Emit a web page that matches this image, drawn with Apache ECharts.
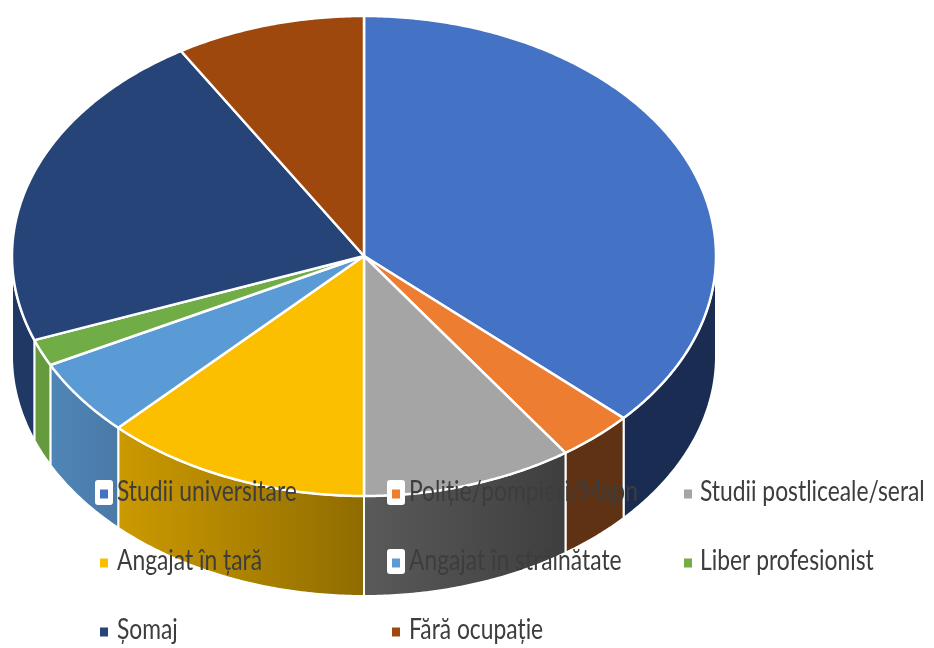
<!DOCTYPE html>
<html><head><meta charset="utf-8">
<style>html,body{margin:0;padding:0;background:#fff}#c{width:934px;height:648px}</style>
<script src="https://cdn.jsdelivr.net/npm/echarts@6/dist/echarts.min.js"></script>
</head><body><div id="c"></div>
<script>
const categories = ["Studii universitare","Poliție/pompieri/Mapn","Studii postliceale/seral","Angajat în țară","Angajat în străinătate","Liber profesionist","Șomaj","Fără ocupație"];
const values = [36.8,3.5,9.7,12.3,5.2,1.8,22.0,8.7];
const colors = ["#4472C4","#ED7D31","#A5A5A5","#FBBF00","#5B9BD5","#70AD47","#264478","#9E480E"];
const wallLeft = ["#1A2C52","#5E3213","#5A5A5A","#CC9A00","#4F86B8","#659A3F","#1F3864","#5E3213"];
const wallRight = ["#1A2C52","#5E3213","#3E3E3E","#8F6C00","#4A7AA6","#659A3F","#1F3864","#5E3213"];
const legendCols = [100,392,684];
const legendRows = [481,550,619];
const textCols = [117,409,700];
const textCenters = [492,561,630];
const boxed = [0,1,4];

const CX=364, CY=256, RX=352, RY=240, DEPTH=100;
const total = values.reduce((a,b)=>a+b,0);
function pt(t,dy){return [CX+RX*Math.sin(t), CY-RY*Math.cos(t)+(dy||0)];}
function arc(a,b,dy){const n=Math.max(2,Math.ceil(Math.abs(b-a)/0.01));const r=[];for(let i=0;i<=n;i++)r.push(pt(a+(b-a)*i/n,dy));return r;}
function makeRender(idx){
  let s=0;for(let i=0;i<idx;i++)s+=values[i];
  return function(params,api){
    const v=api.value(0);
    const a=s/total*2*Math.PI,b=(s+v)/total*2*Math.PI;
    const kids=[];
    const wa=Math.max(a,Math.PI/2),wb=Math.min(b,Math.PI*1.5);
    if(wb>wa){
      const top=arc(wa,wb,0),bot=arc(wb,wa,DEPTH);
      kids.push({type:'polygon',shape:{points:top.concat(bot)},style:{
        fill:new echarts.graphic.LinearGradient(0,0,1,0,[{offset:0,color:wallLeft[idx]},{offset:1,color:wallRight[idx]}]),
        stroke:'#fff',lineWidth:2,lineJoin:'round'}});
    }
    kids.push({type:'polygon',shape:{points:[[CX,CY]].concat(arc(a,b,0))},style:{fill:colors[idx],stroke:'#fff',lineWidth:2.5,lineJoin:'round'}});
    return {type:'group',children:kids};
  };
}
const series=categories.map((name,i)=>({
  type:'custom',name,coordinateSystem:'none',silent:true,animation:false,z:2,
  itemStyle:{color:colors[i]},
  encode:{value:0},
  data:[[values[i]]],
  renderItem:makeRender(i)
}));
const legends=categories.map((name,i)=>({
  show:true,data:[name],orient:'horizontal',z:6,
  left:legendCols[i%3],top:legendRows[Math.floor(i/3)],
  icon:'rect',itemWidth:8,itemHeight:9,itemGap:0,selectedMode:false,padding:0,
  formatter:()=>' ',
  textStyle:{fontSize:25,lineHeight:26}
}));
const graphic=boxed.map(i=>({
  type:'rect',z:5,
  left:legendCols[i%3]-5,top:legendRows[Math.floor(i/3)]-1,
  shape:{width:18,height:25,r:3},style:{fill:'#fff'}
})).concat(categories.map((name,i)=>({
  type:'text',z:7,silent:true,
  x:textCols[i%3],y:textCenters[Math.floor(i/3)],
  scaleX:0.815,scaleY:1,
  style:{text:name,fill:'#3d3d3d',font:'28px Lato, sans-serif',textAlign:'left',textVerticalAlign:'middle'}
})));
const chart=echarts.init(document.getElementById('c'),null,{renderer:'canvas'});
chart.setOption({animation:false,color:colors,backgroundColor:'#fff',legend:legends,series,graphic});
</script></body></html>
